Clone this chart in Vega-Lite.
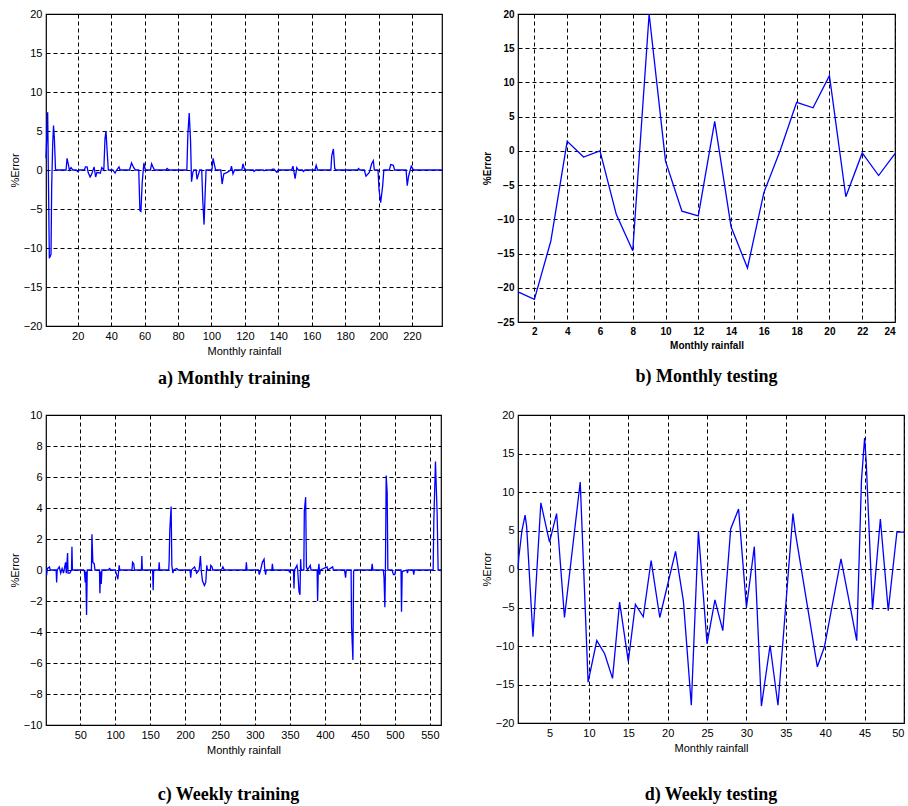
{
  "$schema": "https://vega.github.io/schema/vega-lite/v6.json",
  "background": "white",
  "padding": {"left": 8, "top": 7, "right": 0, "bottom": 0},
  "datasets": {
    "a": [
      {"x":1,"y":1.5},{"x":2,"y":7.4},{"x":3,"y":-11.3},{"x":4,"y":-10.8},{"x":4.4,"y":-2.2},{"x":5,"y":3.3},{"x":5.5,"y":5.7},{"x":6,"y":4.1},{"x":6.7,"y":0},
      {"x":13,"y":0},{"x":13.6,"y":1.5},{"x":14.4,"y":0.7},{"x":15,"y":0},{"x":16,"y":0.3},{"x":17,"y":0},{"x":19,"y":0},{"x":20,"y":-0.2},{"x":21,"y":0},{"x":24,"y":0},{"x":24.6,"y":0.4},{"x":25.6,"y":0.4},{"x":26.2,"y":-0.3},{"x":27.4,"y":-0.9},{"x":28.2,"y":-0.6},{"x":29.8,"y":0.4},{"x":30.7,"y":-0.9},{"x":31.5,"y":-0.3},{"x":33.5,"y":-0.4},{"x":34.4,"y":0.3},{"x":35.6,"y":0},{"x":36.3,"y":4},{"x":36.9,"y":5},{"x":37.7,"y":2},{"x":38.3,"y":0},
      {"x":41,"y":0},{"x":42.3,"y":-0.4},{"x":43.3,"y":0},{"x":44.7,"y":0.4},{"x":45.3,"y":0},{"x":51,"y":0},{"x":52.2,"y":0.9},{"x":53.5,"y":0.3},{"x":54.5,"y":0},{"x":56.5,"y":0},{"x":57.2,"y":-5.2},{"x":57.8,"y":-5.3},{"x":58.6,"y":-1.5},{"x":59.6,"y":0.9},{"x":60.4,"y":0},{"x":63.5,"y":0},{"x":64.2,"y":0.8},{"x":65.2,"y":0.3},{"x":66,"y":0},{"x":72.8,"y":0},{"x":73.5,"y":0.2},{"x":74.5,"y":0},
      {"x":85.3,"y":0},{"x":85.9,"y":4.5},{"x":86.7,"y":7.3},{"x":87.5,"y":3.8},{"x":88.1,"y":-1.5},{"x":88.9,"y":-0.3},{"x":89.5,"y":0},{"x":90.8,"y":0},{"x":91.4,"y":-1.2},{"x":92.2,"y":-0.6},{"x":93,"y":0},{"x":94.2,"y":0},{"x":94.8,"y":-3.8},{"x":95.6,"y":-7},{"x":96.2,"y":-3.3},{"x":96.8,"y":0},
      {"x":100.3,"y":0},{"x":101,"y":1.5},{"x":101.8,"y":0.7},{"x":102.5,"y":0},{"x":105.6,"y":0},{"x":106.4,"y":-1.8},{"x":107.4,"y":-0.5},{"x":109.4,"y":-0.3},{"x":111.5,"y":0},{"x":112,"y":0.5},{"x":112.9,"y":-0.5},{"x":113.8,"y":0},{"x":118.2,"y":0},{"x":118.9,"y":0.8},{"x":119.9,"y":0},
      {"x":125,"y":0},{"x":125.5,"y":-0.2},{"x":126.5,"y":0},{"x":131,"y":0},{"x":131.5,"y":-0.1},{"x":132.5,"y":0},{"x":136,"y":0},{"x":136.5,"y":0.1},{"x":137.5,"y":0.1},{"x":139.2,"y":-0.3},{"x":140,"y":0},{"x":148,"y":0},{"x":148.8,"y":0.5},{"x":150.1,"y":-1.1},{"x":151.1,"y":0.3},{"x":152,"y":0},{"x":154.5,"y":0},{"x":155,"y":-0.2},{"x":156,"y":0},{"x":162,"y":0},{"x":162.7,"y":0.6},{"x":163.5,"y":0},
      {"x":171.5,"y":0},{"x":172,"y":1.8},{"x":173,"y":2.7},{"x":173.8,"y":0.2},{"x":174.5,"y":0},{"x":187.5,"y":0},{"x":188,"y":0.2},{"x":189,"y":0},{"x":191.5,"y":0},{"x":192.5,"y":-0.8},{"x":194.5,"y":-0.3},{"x":195.9,"y":0.8},{"x":196.9,"y":1.2},{"x":197.5,"y":0},{"x":199.7,"y":0},{"x":200.3,"y":-2.5},{"x":201.3,"y":-4.2},{"x":202.5,"y":-2},{"x":203.2,"y":0},
      {"x":206.5,"y":0},{"x":207.3,"y":0.7},{"x":208.9,"y":0.6},{"x":209.6,"y":0},{"x":216.5,"y":0},{"x":217.2,"y":-2},{"x":218,"y":-0.8},{"x":219.6,"y":0.5},{"x":220.4,"y":0.2},{"x":221,"y":0},{"x":238,"y":0}
    ],
    "b": [
      {"x":1,"y":-20.6},{"x":2,"y":-21.7},{"x":3,"y":-13.2},{"x":4,"y":1.4},{"x":5,"y":-0.9},{"x":6,"y":0},{"x":7,"y":-9.3},{"x":8,"y":-14.6},{"x":9,"y":20},{"x":10,"y":-1.5},{"x":11,"y":-8.8},{"x":12,"y":-9.5},{"x":13,"y":4.3},{"x":14,"y":-11.1},{"x":15,"y":-17.1},{"x":16,"y":-6.1},{"x":17,"y":0.1},{"x":18,"y":7.1},{"x":19,"y":6.3},{"x":20,"y":11},{"x":21,"y":-6.7},{"x":22,"y":-0.3},{"x":23,"y":-3.6},{"x":24,"y":-0.4}
    ],
    "c": [
      {"x":1,"y":-0.3},{"x":2,"y":-0.3},{"x":3,"y":0.1},{"x":4.8,"y":0.15},{"x":6,"y":0.2},{"x":7,"y":0},{"x":15.5,"y":0},{"x":16.2,"y":-0.8},{"x":17,"y":0},{"x":20,"y":0.2},{"x":22,"y":-0.2},{"x":24,"y":0.1},{"x":26,"y":-0.2},{"x":29,"y":0.5},{"x":30,"y":-0.2},{"x":31.9,"y":1.1},{"x":32.5,"y":-0.2},{"x":35,"y":-0.2},{"x":37.5,"y":0},{"x":38.1,"y":1.5},{"x":38.8,"y":0},
      {"x":55,"y":0},{"x":56,"y":-0.1},{"x":57.1,"y":-0.8},{"x":58,"y":-0.1},{"x":59,"y":-2.9},{"x":60,"y":0},{"x":66,"y":0},{"x":66.7,"y":2.3},{"x":68,"y":0.5},{"x":70,"y":0.4},{"x":71,"y":0},{"x":77.5,"y":0},{"x":78.1,"y":-1.5},{"x":79,"y":-0.1},{"x":80,"y":-0.9},{"x":81,"y":0},{"x":90,"y":0},{"x":92,"y":0.1},{"x":94,"y":0},
      {"x":100,"y":0},{"x":102,"y":-0.3},{"x":103.8,"y":-0.6},{"x":105,"y":0},{"x":105.7,"y":0.3},{"x":106.5,"y":0},{"x":124,"y":0},{"x":124.8,"y":0.5},{"x":126.5,"y":0.4},{"x":127.5,"y":0},{"x":137.5,"y":0},{"x":138.1,"y":0.9},{"x":138.8,"y":0},{"x":153.5,"y":0},{"x":154.3,"y":-1.3},{"x":155,"y":0},{"x":162.2,"y":0},{"x":162.9,"y":0.5},{"x":163.6,"y":0},
      {"x":176.5,"y":0},{"x":177.1,"y":0.5},{"x":178.1,"y":2.6},{"x":180,"y":4.1},{"x":181,"y":0.3},{"x":182.5,"y":-0.2},{"x":183.5,"y":0},{"x":188,"y":0.1},{"x":190,"y":0},{"x":207,"y":0},{"x":208,"y":-0.5},{"x":209,"y":0},{"x":213.5,"y":0.2},{"x":216.5,"y":-0.2},{"x":220,"y":0},{"x":221.9,"y":0.9},{"x":223,"y":0},{"x":224.8,"y":-0.7},{"x":227.6,"y":-1},{"x":229.5,"y":-0.8},{"x":231,"y":0.3},{"x":232,"y":0},{"x":236,"y":0},{"x":236.7,"y":0.3},{"x":238.5,"y":0.2},{"x":239.5,"y":0},
      {"x":252,"y":0},{"x":254,"y":0.2},{"x":256,"y":0},{"x":286.8,"y":0},{"x":287.6,"y":0.5},{"x":288.5,"y":0},{"x":305,"y":0},{"x":306,"y":-0.3},{"x":308,"y":0},{"x":310.5,"y":0.5},{"x":312.9,"y":0.7},{"x":314,"y":0},{"x":315.2,"y":-0.3},{"x":316,"y":0},{"x":324,"y":0},{"x":324.8,"y":0.4},{"x":325.8,"y":0},
      {"x":348,"y":0},{"x":349,"y":-0.1},{"x":350,"y":0},{"x":355,"y":0},{"x":355.7,"y":-1.2},{"x":356.5,"y":0},{"x":360,"y":0.3},{"x":361,"y":0},{"x":362.9,"y":-1.4},{"x":364.3,"y":-1.6},{"x":365.2,"y":0.7},{"x":366,"y":0},{"x":369.8,"y":0},{"x":370.5,"y":3.8},{"x":372.4,"y":4.7},{"x":373.5,"y":0.2},{"x":375,"y":0},{"x":379,"y":0.3},{"x":380,"y":0},
      {"x":388.8,"y":0},{"x":389.5,"y":-2},{"x":390.5,"y":0},{"x":391.4,"y":0.4},{"x":392.5,"y":-0.3},{"x":393.5,"y":0},{"x":403,"y":0.2},{"x":404,"y":0},{"x":411,"y":0.2},{"x":412,"y":0},{"x":428,"y":0},{"x":429.5,"y":-0.5},{"x":430.5,"y":0},{"x":437.4,"y":0},{"x":438.1,"y":-3.7},{"x":440,"y":-5.8},{"x":441,"y":-0.1},{"x":442,"y":0},
      {"x":466.5,"y":0},{"x":467.6,"y":0.4},{"x":468.5,"y":0},{"x":483.5,"y":0},{"x":484.5,"y":-0.5},{"x":485.7,"y":-2.4},{"x":486.5,"y":0},{"x":487.6,"y":6.1},{"x":489,"y":5},{"x":490,"y":0},{"x":496,"y":0},{"x":498,"y":-0.3},{"x":500,"y":-0.3},{"x":501,"y":0},{"x":508.8,"y":0},{"x":509.5,"y":-2.7},{"x":510.5,"y":-0.1},{"x":517,"y":0},{"x":518,"y":-0.2},{"x":519,"y":0},{"x":526,"y":0},{"x":527,"y":-0.3},{"x":528,"y":0},
      {"x":554.8,"y":0},{"x":555.7,"y":3.1},{"x":558.1,"y":7},{"x":560.5,"y":3.6},{"x":561.9,"y":0},{"x":566,"y":0}
    ],
    "d": [
      {"x":1,"y":0},{"x":1.1,"y":1.5},{"x":1.5,"y":5},{"x":1.9,"y":7},{"x":2.1,"y":5.5},{"x":2.9,"y":-8.8},{"x":3.9,"y":8.6},{"x":5,"y":3.5},{"x":5.9,"y":7.2},{"x":6.9,"y":-6.3},{"x":8.9,"y":11.3},{"x":9.9,"y":-14.7},{"x":11,"y":-9.3},{"x":12,"y":-11},{"x":13,"y":-14.2},{"x":13.9,"y":-4.3},{"x":15,"y":-12},{"x":15.9,"y":-4.6},{"x":16.9,"y":-6.2},{"x":17.9,"y":1.1},{"x":19,"y":-6.3},{"x":21,"y":2.3},{"x":22,"y":-4.2},{"x":23,"y":-17.7},{"x":23.9,"y":4.9},{"x":25,"y":-9.7},{"x":26,"y":-4},{"x":27,"y":-8},{"x":28,"y":5.2},{"x":29,"y":7.8},{"x":30,"y":-5},{"x":31,"y":2.9},{"x":31.9,"y":-17.8},{"x":33,"y":-9.9},{"x":34,"y":-17.7},{"x":35.9,"y":7.2},{"x":36.2,"y":4.8},{"x":39,"y":-12.7},{"x":39.9,"y":-10.1},{"x":42,"y":1.3},{"x":44,"y":-9.3},{"x":44.6,"y":11.5},{"x":45,"y":17},{"x":45.2,"y":14},{"x":45.5,"y":6.8},{"x":46,"y":-5.3},{"x":47,"y":6.5},{"x":48,"y":-5.4},{"x":49.1,"y":4.8},{"x":50,"y":4.8}
    ]
  },
  "config": {
    "view": {"stroke": "#000000", "strokeWidth": 1.2},
    "axis": {
      "grid": true, "gridColor": "#000000", "gridDash": [4, 3], "gridOpacity": 1, "gridWidth": 1,
      "domain": false, "ticks": false,
      "labelFont": "Liberation Sans", "labelFontSize": 11, "labelColor": "#000000", "labelPadding": 4,
      "titleFont": "Liberation Sans", "titleFontSize": 11, "titleFontWeight": "normal", "titleColor": "#000000",
      "labelOverlap": false
    },
    "title": {"font": "Liberation Serif", "fontSize": 18, "fontWeight": "bold", "color": "#000000", "orient": "bottom"},
    "line": {"color": "#0000ff", "strokeWidth": 1.3, "clip": true}
  },
  "columns": 2,
  "bounds": "flush",
  "spacing": {"row": 89, "column": 76},
  "concat": [
    {
      "data": {"name": "a"},
      "width": 396, "height": 312,
      "title": {"text": "a) Monthly training", "offset": 14, "dx": -10},
      "mark": "line",
      "encoding": {
        "x": {"field": "x", "type": "quantitative", "scale": {"domain": [1, 238], "nice": false, "zero": false},
              "axis": {"values": [20,40,60,80,100,120,140,160,180,200,220], "title": "Monthly rainfall"}},
        "y": {"field": "y", "type": "quantitative", "scale": {"domain": [-20, 20], "nice": false},
              "axis": {"values": [-20,-15,-10,-5,0,5,10,15,20], "title": "%Error", "titleX": -26}}
      }
    },
    {
      "data": {"name": "b"},
      "width": 377, "height": 308,
      "title": {"text": "b) Monthly testing", "offset": 18},
      "mark": "line",
      "encoding": {
        "x": {"field": "x", "type": "quantitative", "scale": {"domain": [1, 24], "nice": false, "zero": false},
              "axis": {"values": [2,4,6,8,10,12,14,16,18,20,22,24], "title": "Monthly rainfall", "labelFontWeight": "bold", "titleFontWeight": "bold", "labelFontSize": 10, "titleFontSize": 10}},
        "y": {"field": "y", "type": "quantitative", "scale": {"domain": [-25, 20], "nice": false},
              "axis": {"values": [-25,-20,-15,-10,-5,0,5,10,15,20], "title": "%Error", "titleX": -26, "labelFontWeight": "bold", "titleFontWeight": "bold", "labelFontSize": 10, "titleFontSize": 10}}
      }
    },
    {
      "data": {"name": "c"},
      "width": 395, "height": 310,
      "title": {"text": "c) Weekly training", "offset": 31, "dx": -15},
      "mark": "line",
      "encoding": {
        "x": {"field": "x", "type": "quantitative", "scale": {"domain": [1, 566], "nice": false, "zero": false},
              "axis": {"values": [50,100,150,200,250,300,350,400,450,500,550], "title": "Monthly rainfall"}},
        "y": {"field": "y", "type": "quantitative", "scale": {"domain": [-10, 10], "nice": false},
              "axis": {"values": [-10,-8,-6,-4,-2,0,2,4,6,8,10], "title": "%Error", "titleX": -26}}
      }
    },
    {
      "data": {"name": "d"},
      "width": 386, "height": 308,
      "title": {"text": "d) Weekly testing", "offset": 33},
      "mark": "line",
      "encoding": {
        "x": {"field": "x", "type": "quantitative", "scale": {"domain": [1, 50], "nice": false, "zero": false},
              "axis": {"values": [5,10,15,20,25,30,35,40,45,50], "title": "Monthly rainfall", "labelFlush": true}},
        "y": {"field": "y", "type": "quantitative", "scale": {"domain": [-20, 20], "nice": false},
              "axis": {"values": [-20,-15,-10,-5,0,5,10,15,20], "title": "%Error", "titleX": -26}}
      }
    }
  ]
}
